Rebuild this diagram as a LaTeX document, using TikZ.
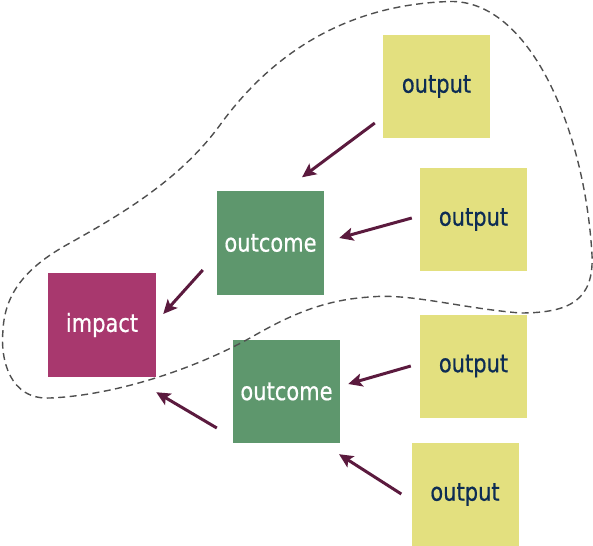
\documentclass[tikz,border=0pt]{standalone}
\usepackage{fontspec}
\setmainfont{DejaVu Sans}
\newfontfamily\boxfont{DejaVu Sans}[FakeStretch=0.84, FakeBold=0.6]
\usetikzlibrary{arrows.meta,calc}
\definecolor{outyel}{HTML}{E3E07F}
\definecolor{outgreen}{HTML}{5E976D}
\definecolor{impmag}{HTML}{A8386E}
\definecolor{navytxt}{HTML}{0D2C54}
\definecolor{arrcol}{HTML}{5B1A3E}
\definecolor{dashgray}{HTML}{4F4F4F}
\tikzset{
  boxbase/.style={inner sep=0pt, minimum width=107pt, minimum height=103pt, font=\boxfont\fontsize{25}{28}\selectfont},
  outputbox/.style={boxbase, fill=outyel, text=navytxt},
  outcomebox/.style={boxbase, fill=outgreen, text=white},
  impactbox/.style={boxbase, fill=impmag, text=white, minimum width=108pt, minimum height=104pt},
  arr/.style={draw=arrcol, line width=3pt, -{Stealth[length=14pt,width=13pt,inset=3pt]}},
  blob/.style={draw=dashgray, line width=1.4pt, dash pattern=on 7pt off 4.5pt}
}
\begin{document}
\begin{tikzpicture}[x=1pt,y=-1pt]
\useasboundingbox (0,0) rectangle (593,545);
\node[impactbox] (imp) at (102,325) {impact};
\node[outcomebox] (oc1) at (270.5,243) {outcome};
\node[outcomebox] (oc2) at (286.5,391.5) {outcome};
\node[outputbox] (o1) at (436.5,86.5) {output};
\node[outputbox] (o2) at (473.5,219.5) {output};
\node[outputbox] (o3) at (473.5,366) {output};
\node[outputbox] (o4) at (465,494.5) {output};

\draw[arr] ($(o1.west)+(-8,36.5)$) -- ($(oc1.north)+(31.5,-14)$);
\draw[arr] ($(o2.west)+(-8,-1.5)$) -- ($(oc1.east)+(15,-5)$);
\draw[arr] ($(oc1.west)+(-14,27)$) -- ($(imp.east)+(7,-11)$);
\draw[arr] ($(o3.west)+(-9,0)$) -- ($(oc2.east)+(8,-7.5)$);
\draw[arr] ($(o4.west)+(-10,-0.5)$) -- ($(oc2.south)+(52.5,11)$);
\draw[arr] ($(oc2.west)+(-16,36.5)$) -- ($(imp.south east)+(0,15)$);

\draw[blob] (450,1.5)
  .. controls (530,0) and (585,130) .. (592,255)
  .. controls (594,300) and (570,313) .. (520,313)
  .. controls (460,308) and (410,293) .. (370,297)
  .. controls (320,300) and (285,318) .. (250,338)
  .. controls (200,366) and (120,395) .. (50,398)
  .. controls (10,400) and (0,360) .. (3,330)
  .. controls (5,290) and (30,265) .. (70,243)
  .. controls (120,215) and (180,180) .. (220,125)
  .. controls (260,70) and (330,5) .. (450,1.5) -- cycle;
\end{tikzpicture}
\end{document}
